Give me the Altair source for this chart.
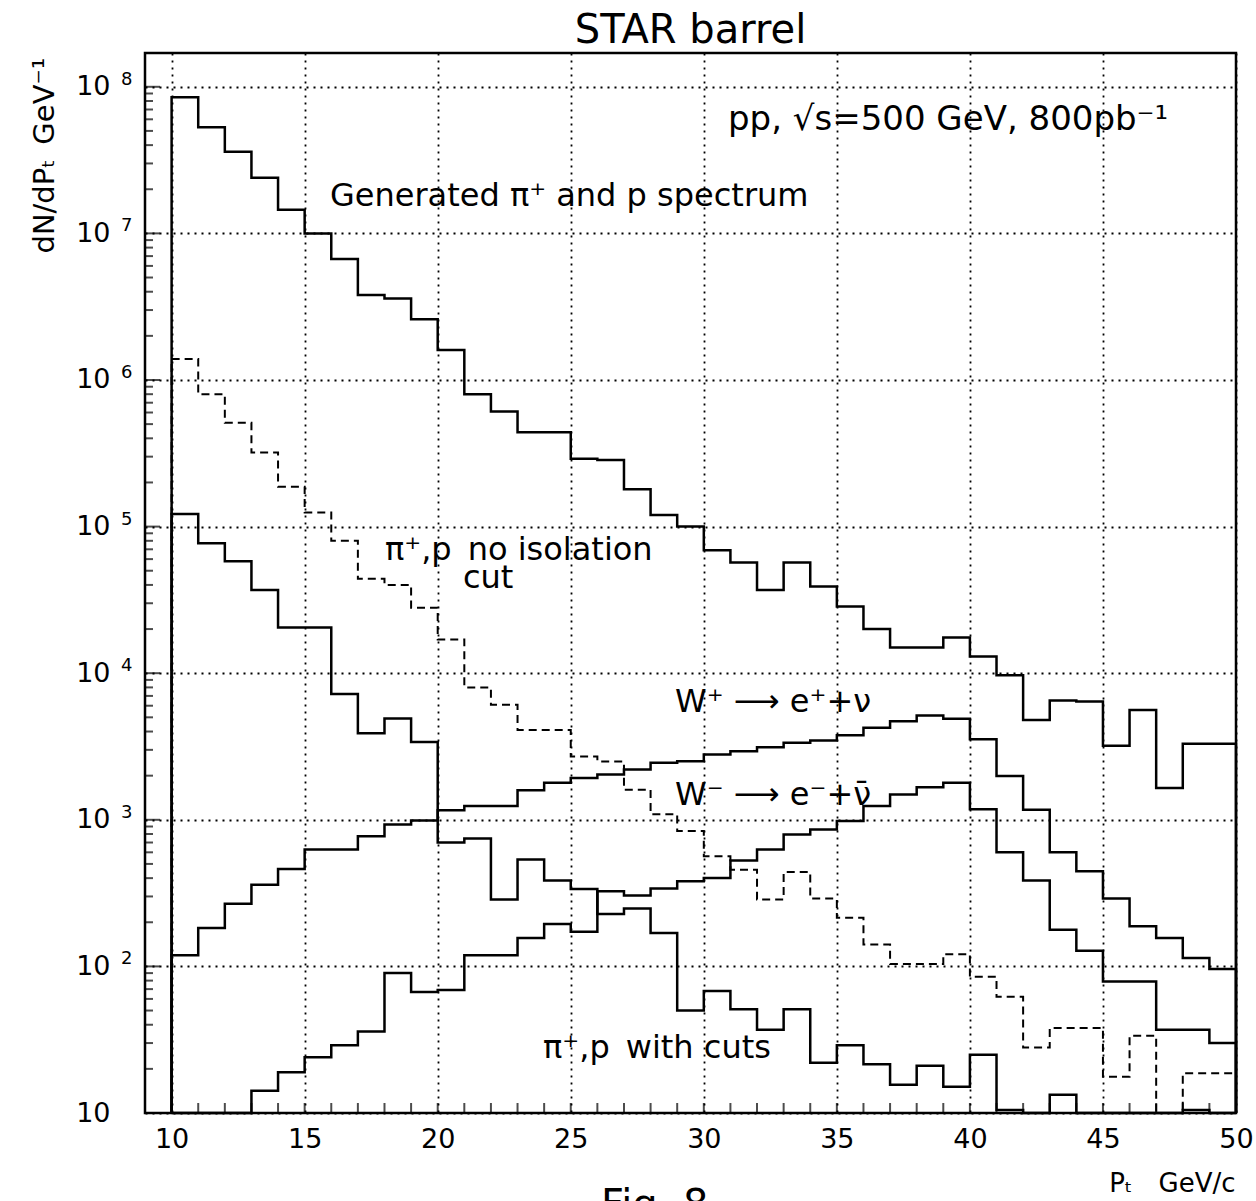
import altair as alt
import pandas as pd

# ---------------- data ----------------
bin_edges = list(range(10, 51))          # 40 bins of 1 GeV/c, 10..50

generated = [8.5e7, 5.3e7, 3.6e7, 2.4e7, 1.45e7, 1.0e7, 6.7e6, 3.8e6, 3.6e6, 2.6e6,
             1.6e6, 8.0e5, 6.1e5, 4.4e5, 4.4e5, 2.9e5, 2.85e5, 1.8e5, 1.2e5, 1.0e5,
             6.9e4, 5.7e4, 3.7e4, 5.7e4, 3.9e4, 2.85e4, 2.0e4, 1.5e4, 1.5e4, 1.75e4,
             1.3e4, 9.7e3, 4.8e3, 6.5e3, 6.4e3, 3.2e3, 5.6e3, 1.65e3, 3.3e3, 3.3e3]

no_isolation = [1.39e6, 8.0e5, 5.1e5, 3.2e5, 1.87e5, 1.25e5, 8.0e4, 4.4e4, 4.0e4, 2.8e4,
                1.7e4, 8.0e3, 6.1e3, 4.1e3, 4.1e3, 2.7e3, 2.5e3, 1.6e3, 1.09e3, 840,
                565, 457, 286, 440, 290, 215, 141, 104, 104, 121,
                85, 62, 28, 38, 38, 17.7, 33.6, 0, 18.7, 18.7]

with_cuts = [1.22e5, 7.7e4, 5.8e4, 3.7e4, 2.05e4, 2.05e4, 7.2e3, 3.9e3, 4.9e3, 3.4e3,
             700, 745, 286, 536, 385, 337, 228, 248, 169, 50,
             68, 51, 37, 51, 22, 29, 21.5, 15.6, 21, 15.1,
             25, 10.5, 0, 13.3, 0, 0, 0, 0, 10.5, 0]

w_plus = [119, 183, 267, 361, 462, 627, 627, 773, 929, 990,
          1160, 1240, 1240, 1590, 1790, 1930, 2040, 2200, 2450, 2510,
          2790, 2940, 3130, 3350, 3480, 3780, 4240, 4710, 5150, 4890,
          3540, 1990, 1170, 601, 446, 290, 188, 156, 114, 96]

w_minus = [0, 0, 0, 14.2, 19, 24, 29, 36, 90, 67,
           69, 119, 119, 156, 195, 172, 325, 304, 340, 381,
           401, 527, 627, 794, 859, 980, 1240, 1490, 1670, 1790,
           1180, 601, 385, 178, 128, 79, 79, 37, 37, 30]

x_ticks = [10, 15, 20, 25, 30, 35, 40, 45, 50]
y_ticks = [1e1, 1e2, 1e3, 1e4, 1e5, 1e6, 1e7, 1e8]
y_tick_base = "10"
y_tick_exponents = ["", "2", "3", "4", "5", "6", "7", "8"]

annot_text = ["Generated π⁺ and p spectrum", "π⁺,p\u2002no isolation", "cut",
              "W⁺ ⟶ e⁺+ν", "W⁻ ⟶ e⁻+ν̄", "π⁺,p\u2002with cuts"]
annot_x = [15.95, 18.02, 20.95, 28.92, 28.92, 23.96]
annot_y = [1.54e7, 5.92e4, 3.8e4, 5.43e3, 1.26e3, 23.7]

energy_text = ["pp, √s=500 GeV, 800pb⁻¹"]
energy_x = [30.91]
energy_y = [5.07e7]

fig_text = ["Fig. 8"]
fig_x = [26.14]
fig_y = [1.92]

Y_MIN, Y_MAX = 10, 1.7e8
X_MIN, X_MAX = 9, 50
FONT = "DejaVu Sans"


def step_rows(name, values):
    vals = [v if v > Y_MIN else Y_MIN for v in values]
    xs = [bin_edges[0]] + bin_edges[:-1] + [bin_edges[-1], bin_edges[-1]]
    ys = [Y_MIN] + vals + [vals[-1], Y_MIN]
    return [{"series": name, "order": i, "x": x, "y": y}
            for i, (x, y) in enumerate(zip(xs, ys))]


solid_df = pd.DataFrame(step_rows("generated", generated) + step_rows("with_cuts", with_cuts)
                        + step_rows("w_plus", w_plus) + step_rows("w_minus", w_minus))
dashed_df = pd.DataFrame(step_rows("no_isolation", no_isolation))

xscale = alt.Scale(domain=[X_MIN, X_MAX], nice=False, zero=False)
yscale = alt.Scale(type="log", domain=[Y_MIN, Y_MAX], nice=False)

common_axis = dict(grid=True, gridColor="black", gridDash=[2, 5], gridWidth=1.8,
                   gridOpacity=1, ticks=False, domain=False, labelFont=FONT,
                   labelFontSize=27, labelColor="black", labelFlush=False,
                   labelOverlap=False, titleFont=FONT, titleFontWeight="normal",
                   titleColor="black")

x_axis = alt.Axis(values=x_ticks, format="d", labelPadding=13,
                  title="Pₜ\u2002\u2002GeV/c", titleFontSize=26, titleX=1090, titleY=78,
                  titleAlign="right", titleBaseline="alphabetic", **common_axis)
y_axis = alt.Axis(values=y_ticks, labelExpr=f"'{y_tick_base}'", labelPadding=35,
                  title="dN/dPₜ\u2002GeV⁻¹", titleFontSize=29, titleAngle=270,
                  titleX=-92, titleY=200, titleAlign="left", titleBaseline="alphabetic",
                  **common_axis)


def X():
    return alt.X("x:Q", scale=xscale, axis=x_axis)


def Y():
    return alt.Y("y:Q", scale=yscale, axis=y_axis)


solid = alt.Chart(solid_df).mark_line(interpolate="step-after", color="black",
                                      strokeWidth=2.5).encode(
    x=X(), y=Y(), detail="series:N", order="order:Q")

dashed = alt.Chart(dashed_df).mark_line(interpolate="step-after", color="black",
                                        strokeWidth=2, strokeDash=[8, 5]).encode(
    x=X(), y=Y(), detail="series:N", order="order:Q")

# inward minor / major ticks (clipped half of a centred tick)
x_minor = pd.DataFrame({"x": list(range(10, 50)), "y": [Y_MIN] * 40})
y_minor_vals, y_major_flag = [], []
for k in range(1, 9):
    for m in range(1, 10):
        v = m * 10 ** k
        if Y_MIN <= v <= Y_MAX:
            y_minor_vals.append(v)
            y_major_flag.append(m == 1)
y_minor = pd.DataFrame({"y": y_minor_vals, "x": [X_MIN] * len(y_minor_vals),
                        "major": y_major_flag})

x_tick_layer = alt.Chart(x_minor).mark_tick(orient="vertical", size=20, thickness=2,
                                             color="black", clip=True).encode(x=X(), y=Y())
y_tick_minor = alt.Chart(y_minor).transform_filter("!datum.major").mark_tick(
    orient="horizontal", size=16, thickness=2, color="black", clip=True).encode(x=X(), y=Y())
y_tick_major = alt.Chart(y_minor).transform_filter("datum.major").mark_tick(
    orient="horizontal", size=30, thickness=2, color="black", clip=True).encode(x=X(), y=Y())

# exponents of the y tick labels (10^k)
exp_df = pd.DataFrame({"x": [X_MIN] * len(y_ticks), "y": y_ticks, "label": y_tick_exponents})
exponents = alt.Chart(exp_df).mark_text(align="left", baseline="alphabetic", font=FONT,
                                        fontSize=18, color="black", dx=-24, dy=-2).encode(
    x=X(), y=Y(), text="label:N")


def text_layer(xs, ys, labels, size):
    df = pd.DataFrame({"x": xs, "y": ys, "label": labels})
    return alt.Chart(df).mark_text(align="left", baseline="alphabetic", font=FONT,
                                   fontSize=size, color="black").encode(
        x=X(), y=Y(), text="label:N")


annot = text_layer(annot_x, annot_y, annot_text, 32)
energy = text_layer(energy_x, energy_y, energy_text, 34)
fig = text_layer(fig_x, fig_y, fig_text, 40)

chart = alt.layer(solid, dashed, x_tick_layer, y_tick_minor, y_tick_major,
                  exponents, annot, energy, fig).properties(
    width=1091, height=1060,
    padding={"left": 145, "top": 53, "right": 20, "bottom": 88},
    autosize=alt.AutoSizeParams(type="none"),
    title=alt.TitleParams("STAR barrel", font=FONT, fontSize=40, fontWeight="normal",
                          color="black", anchor="middle", offset=2),
).configure(background="white").configure_view(stroke="black", strokeWidth=2.5)

chart.save("out.html", embed_options={"renderer": "svg", "actions": False})
